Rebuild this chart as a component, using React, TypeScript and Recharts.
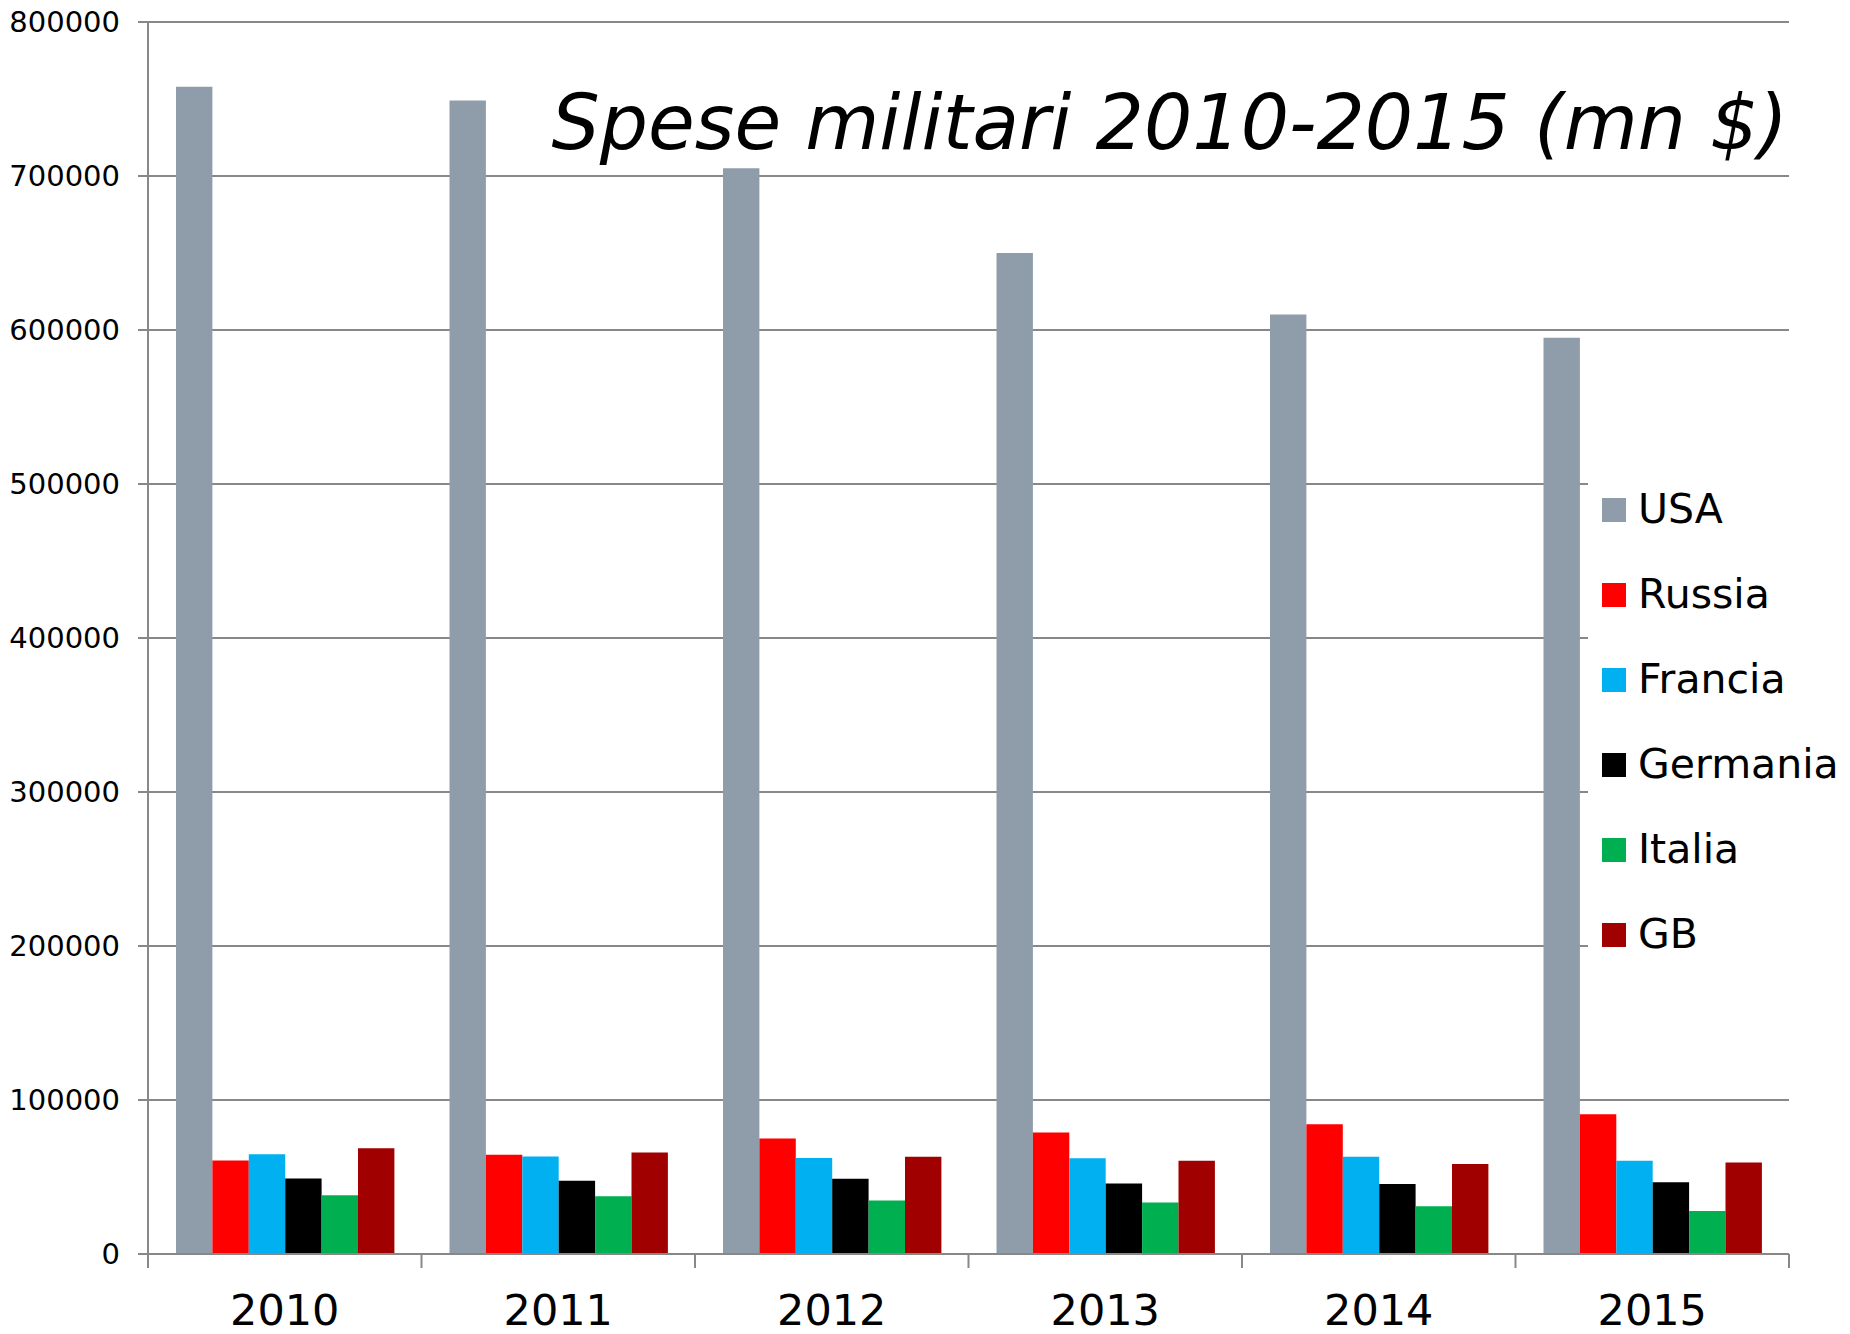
import { BarChart, Bar, XAxis, YAxis, CartesianGrid, Legend } from 'recharts';

const years = ['2010', '2011', '2012', '2013', '2014', '2015'];
const usa = [758000, 749000, 705000, 650000, 610000, 595000];
const russia = [60700, 64400, 75000, 78900, 84300, 90700];
const francia = [64800, 63300, 62400, 62200, 63100, 60500];
const germania = [49000, 47500, 48800, 45800, 45500, 46600];
const italia = [38200, 37500, 34700, 33400, 31000, 28000];
const gb = [68700, 65900, 63100, 60500, 58500, 59400];
const yTicks = [0, 100000, 200000, 300000, 400000, 500000, 600000, 700000, 800000];

const series = [
  { key: 'USA', values: usa, color: '#8F9DAA' },
  { key: 'Russia', values: russia, color: '#FF0000' },
  { key: 'Francia', values: francia, color: '#00B0F0' },
  { key: 'Germania', values: germania, color: '#000000' },
  { key: 'Italia', values: italia, color: '#00B050' },
  { key: 'GB', values: gb, color: '#A00000' },
];

const FONT = '"DejaVu Sans", Verdana, sans-serif';
const AXIS = '#888888';

const chartData = years.map((year, i) => {
  const row: Record<string, string | number> = { year };
  series.forEach(s => { row[s.key] = s.values[i]; });
  return row;
});

// year label under the band, tick marks on the band edges
const YearTick = (props: any) => {
  const { x, y, payload, index, visibleTicksCount } = props;
  const half = payload.offset ?? 0;
  return (
    <g>
      <line x1={x - half} x2={x - half} y1={y} y2={y + 14} stroke={AXIS} strokeWidth={2} />
      {index === visibleTicksCount - 1 && (
        <line x1={x + half} x2={x + half} y1={y} y2={y + 14} stroke={AXIS} strokeWidth={2} />
      )}
      <text x={x} y={y + 71} textAnchor="middle" fontSize={43} fill="#000" fontFamily={FONT}>
        {payload.value}
      </text>
    </g>
  );
};

const LegendBox = (props: any) => {
  const { payload } = props;
  // keep the series order, not alphabetical
  const items = series.map(s => payload.find((p: any) => p.value === s.key) ?? { value: s.key, color: s.color });
  return (
    <div style={{ background: '#fff', paddingTop: 5, paddingLeft: 14 }}>
      {items.map((entry: any) => (
        <div key={entry.value} style={{ height: 85, display: 'flex', alignItems: 'center' }}>
          <span style={{ width: 24, height: 24, background: entry.color, display: 'inline-block', marginRight: 12 }} />
          <span style={{ fontFamily: FONT, fontSize: 41, color: '#000', lineHeight: 1 }}>{entry.value}</span>
        </div>
      ))}
    </div>
  );
};

export default function App() {
  return (
    <div style={{ position: 'absolute', left: 0, top: 0, width: 1850, height: 1334, background: '#fff' }}>
      <BarChart
        width={1850}
        height={1334}
        data={chartData}
        margin={{ top: 22, right: 61, left: 0, bottom: 0 }}
        barSize={36.4}
        barGap={0}
      >
        <CartesianGrid vertical={false} stroke={AXIS} strokeWidth={2} />
        <XAxis
          dataKey="year"
          height={80}
          axisLine={{ stroke: AXIS, strokeWidth: 2 }}
          tickLine={false}
          tickSize={0}
          tickMargin={0}
          tick={<YearTick />}
          interval={0}
        />
        <YAxis
          width={148}
          domain={[0, 800000]}
          ticks={yTicks}
          interval={0}
          axisLine={{ stroke: AXIS, strokeWidth: 2 }}
          tickLine={{ stroke: AXIS, strokeWidth: 2 }}
          tickSize={10}
          tickMargin={18}
          tick={{ fontSize: 29, fill: '#000', fontFamily: FONT }}
        />
        {series.map(s => (
          <Bar key={s.key} dataKey={s.key} fill={s.color} isAnimationActive={false} />
        ))}
        <Legend
          layout="vertical"
          align="center"
          verticalAlign="middle"
          itemSorter={null}
          content={<LegendBox />}
          wrapperStyle={{ left: 1588, top: 462, width: 262 }}
        />
      </BarChart>
      <div
        style={{
          position: 'absolute',
          right: 62,
          top: 85,
          fontFamily: FONT,
          fontStyle: 'italic',
          fontSize: 76,
          lineHeight: 1,
          color: '#000',
          whiteSpace: 'nowrap',
        }}
      >
        Spese militari 2010-2015 (mn $)
      </div>
    </div>
  );
}
